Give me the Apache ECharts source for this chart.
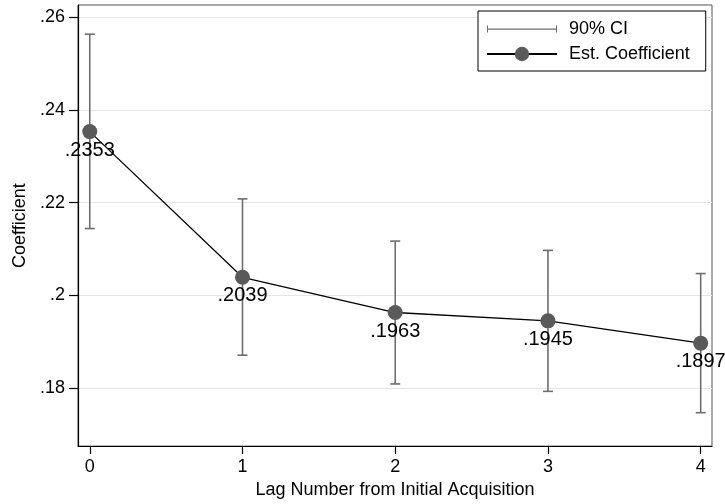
<!DOCTYPE html>
<html>
<head>
<meta charset="utf-8">
<script src="https://cdn.jsdelivr.net/npm/echarts@6/dist/echarts.min.js"></script>
<style>
  html, body { margin: 0; padding: 0; background: #ffffff; }
  #chart { width: 725px; height: 504px; }
</style>
</head>
<body>
<div id="chart"></div>
<script>
// ---- data ----
const lags = [0, 1, 2, 3, 4];
const coef = [0.2353, 0.2039, 0.1963, 0.1945, 0.1897];
const ciLow = [0.2144, 0.1871, 0.1809, 0.1793, 0.1747];
const ciHigh = [0.2563, 0.2208, 0.2117, 0.2097, 0.2047];
const yTicks = [0.18, 0.2, 0.22, 0.24, 0.26];
const xTicks = [0, 1, 2, 3, 4];
const xTitle = 'Lag Number from Initial Acquisition';
const yTitle = 'Coefficient';
const ciName = '90% CI';
const estName = 'Est. Coefficient';

const FONT = '"Liberation Sans", Arial, Helvetica, sans-serif';
const CI_COLOR = '#6e6e6e';
const MARK_COLOR = '#5a5a5a';

function stataFmt(v) {
  let s = Number(v.toFixed(4)).toString();
  return s.replace(/^0\./, '.').replace(/^-0\./, '-.');
}

const chart = echarts.init(document.getElementById('chart'), null, { renderer: 'canvas' });

const option = {
  backgroundColor: '#ffffff',
  animation: false,
  textStyle: { fontFamily: FONT },
  grid: {
    left: 78, right: 13, top: 5, bottom: 53,
    show: true, borderColor: '#555555', borderWidth: 1, containLabel: false
  },
  legend: {
    orient: 'vertical',
    left: 478, top: 11,
    padding: [9, 16, 8, 8],
    itemGap: 7,
    itemWidth: 70,
    itemHeight: 18,
    borderColor: '#000000',
    borderWidth: 1,
    backgroundColor: '#ffffff',
    textStyle: { fontFamily: FONT, fontSize: 18, color: '#000000', padding: [0, 0, 0, 7], lineHeight: 18 },
    data: [
      { name: ciName, icon: 'path://M0,0h1v7h-1z M0,3h70v1.2h-70z M69,0h1v7h-1z', itemStyle: { color: CI_COLOR } },
      { name: estName }
    ]
  },
  xAxis: {
    type: 'value',
    min: -0.077, max: 4.074,
    name: xTitle,
    nameLocation: 'middle',
    nameGap: 31,
    nameTextStyle: { fontFamily: FONT, fontSize: 18, color: '#000000' },
    axisLine: { show: true, onZero: false, lineStyle: { color: '#000000', width: 1.2 } },
    axisTick: { show: true, length: 8, customValues: xTicks, lineStyle: { color: '#000000', width: 1.2 } },
    axisLabel: { customValues: xTicks, fontFamily: FONT, fontSize: 18, color: '#000000', margin: 12, formatter: v => String(v) },
    splitLine: { show: false }
  },
  yAxis: {
    type: 'value',
    min: 0.1675, max: 0.2626,
    name: yTitle,
    nameLocation: 'middle',
    nameGap: 48,
    nameRotate: 90,
    nameTextStyle: { fontFamily: FONT, fontSize: 18, color: '#000000' },
    axisLine: { show: true, onZero: false, lineStyle: { color: '#000000', width: 1.2 } },
    axisTick: { show: true, length: 9, customValues: yTicks, lineStyle: { color: '#000000', width: 1.2 } },
    axisLabel: { customValues: yTicks, fontFamily: FONT, fontSize: 18, color: '#000000', margin: 13, formatter: v => stataFmt(v) },
    splitLine: { show: true, lineStyle: { color: '#e6e6e6', width: 1.2 } }
  },
  series: [
    {
      name: ciName,
      type: 'custom',
      itemStyle: { color: CI_COLOR },
      encode: { x: 0, y: [1, 2] },
      data: lags.map((l, i) => [l, ciLow[i], ciHigh[i]]),
      z: 2,
      renderItem: function (params, api) {
        const x = api.value(0);
        const pLo = api.coord([x, api.value(1)]);
        const pHi = api.coord([x, api.value(2)]);
        const hw = 5;
        const st = { stroke: CI_COLOR, lineWidth: 1.6 };
        return {
          type: 'group',
          children: [
            { type: 'line', shape: { x1: pLo[0], y1: pLo[1], x2: pHi[0], y2: pHi[1] }, style: st },
            { type: 'line', shape: { x1: pLo[0] - hw, y1: pLo[1], x2: pLo[0] + hw, y2: pLo[1] }, style: st },
            { type: 'line', shape: { x1: pHi[0] - hw, y1: pHi[1], x2: pHi[0] + hw, y2: pHi[1] }, style: st }
          ]
        };
      }
    },
    {
      name: estName,
      type: 'line',
      data: lags.map((l, i) => [l, coef[i]]),
      symbol: 'circle',
      symbolSize: 15,
      z: 3,
      lineStyle: { color: '#000000', width: 1.3 },
      itemStyle: { color: MARK_COLOR },
      label: {
        show: true,
        position: 'bottom',
        distance: 1,
        fontFamily: FONT,
        fontSize: 20,
        color: '#000000',
        formatter: p => stataFmt(p.value[1])
      }
    }
  ]
};

chart.setOption(option);
</script>
</body>
</html>
